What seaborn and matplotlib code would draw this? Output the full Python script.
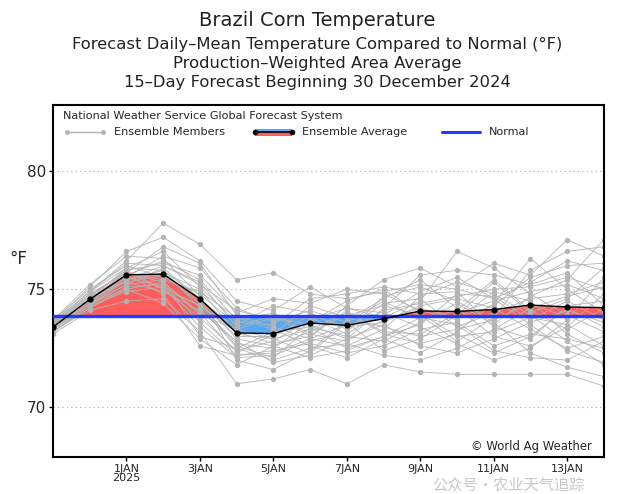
import numpy as np
import pandas as pd
import matplotlib
matplotlib.use("Agg")
import matplotlib.pyplot as plt
from matplotlib.patches import Rectangle
import seaborn as sns

# ---------------- data ----------------
dates = pd.to_datetime([
    "2024-12-30", "2024-12-31", "2025-01-01", "2025-01-02", "2025-01-03",
    "2025-01-04", "2025-01-05", "2025-01-06", "2025-01-07", "2025-01-08",
    "2025-01-09", "2025-01-10", "2025-01-11", "2025-01-12", "2025-01-13",
    "2025-01-14"])

ens_mean = [73.40, 74.57, 75.61, 75.64, 74.59, 73.15, 73.12, 73.57,
            73.47, 73.75, 74.08, 74.06, 74.14, 74.33, 74.25, 74.22]

normal = [73.88] * 16

members = [
    [73.5, 74.9, 76.2, 77.8, 76.9, 75.4, 75.7, 74.8, 74.6, 74.9, 75.2, 75.0, 74.6, 75.3, 76.2, 75.8],
    [73.6, 75.1, 76.6, 77.2, 76.2, 74.5, 74.1, 75.1, 74.2, 73.8, 74.5, 76.6, 75.9, 74.8, 73.9, 73.2],
    [73.2, 74.3, 75.4, 76.0, 75.3, 73.4, 73.9, 73.0, 74.3, 75.4, 75.9, 75.1, 76.1, 75.6, 77.1, 76.4],
    [73.4, 74.6, 75.9, 75.8, 74.2, 72.6, 72.1, 73.4, 73.0, 72.8, 73.6, 74.4, 73.5, 74.7, 75.4, 77.1],
    [73.3, 74.4, 75.2, 75.4, 74.9, 73.8, 73.3, 72.6, 72.1, 72.9, 72.3, 73.2, 74.4, 76.3, 75.0, 74.0],
    [73.7, 75.2, 76.4, 76.3, 74.7, 72.0, 71.6, 72.4, 73.7, 74.6, 75.4, 74.2, 73.0, 72.6, 73.4, 74.8],
    [73.1, 74.1, 74.5, 74.6, 73.2, 71.0, 71.2, 71.6, 71.0, 71.8, 71.5, 71.4, 71.4, 71.4, 71.4, 70.9],
    [73.5, 74.8, 75.7, 75.0, 73.8, 72.4, 72.8, 73.7, 74.2, 74.0, 73.4, 72.7, 72.0, 72.5, 73.7, 75.5],
    [73.6, 74.7, 75.8, 76.1, 75.6, 74.0, 74.6, 74.4, 75.0, 74.8, 74.1, 73.7, 74.9, 74.5, 73.1, 72.3],
    [73.2, 74.2, 75.1, 75.2, 73.6, 72.2, 72.3, 72.9, 72.6, 73.3, 74.7, 75.3, 74.8, 73.9, 72.8, 71.8],
    [73.4, 74.5, 75.5, 76.4, 75.9, 74.2, 73.6, 74.1, 73.6, 72.4, 72.9, 73.9, 75.3, 74.0, 74.6, 75.9],
    [73.3, 74.4, 75.0, 74.4, 72.9, 71.8, 72.6, 73.2, 73.9, 74.3, 73.9, 72.8, 73.8, 75.8, 76.6, 76.8],
    [73.5, 74.6, 75.6, 75.6, 74.4, 73.0, 73.0, 73.9, 73.4, 73.6, 74.3, 74.6, 74.2, 73.3, 72.5, 73.0],
    [73.4, 74.7, 75.3, 74.9, 74.1, 72.8, 71.9, 72.2, 72.9, 73.5, 72.6, 72.3, 72.9, 73.6, 74.1, 73.6],
    [73.6, 74.9, 75.9, 76.6, 75.1, 73.6, 73.5, 74.6, 74.8, 75.1, 74.8, 74.9, 73.4, 72.9, 74.3, 74.5],
    [73.2, 74.3, 75.2, 75.9, 74.6, 72.9, 72.6, 72.1, 72.4, 73.0, 73.8, 73.5, 72.4, 72.1, 72.0, 72.8],
    [73.5, 74.6, 75.7, 75.3, 73.9, 73.3, 73.8, 73.5, 72.9, 74.2, 75.6, 75.8, 75.6, 75.2, 75.7, 74.3],
    [73.3, 74.5, 75.4, 75.7, 75.0, 73.1, 72.9, 73.3, 74.0, 73.2, 73.1, 74.0, 74.5, 74.9, 75.2, 74.6],
    [73.4, 74.4, 75.6, 74.8, 72.6, 72.2, 72.4, 72.7, 72.3, 72.6, 73.3, 73.6, 72.6, 73.1, 72.9, 72.5],
    [73.7, 75.0, 76.0, 75.5, 74.8, 73.5, 74.3, 74.0, 73.3, 74.4, 74.6, 73.4, 74.0, 74.6, 74.8, 75.3],
    [73.3, 74.3, 74.9, 75.1, 74.3, 72.7, 72.5, 73.6, 74.5, 75.0, 74.0, 73.0, 73.2, 73.8, 73.5, 72.6],
    [73.5, 74.8, 75.7, 76.8, 76.1, 73.9, 73.4, 72.9, 73.5, 73.9, 74.9, 75.5, 74.6, 73.5, 72.4, 71.9],
    [73.4, 74.6, 75.3, 75.6, 74.5, 72.5, 72.0, 72.5, 72.7, 72.2, 72.0, 72.5, 73.3, 74.2, 74.7, 75.1],
    [73.2, 74.2, 75.0, 75.3, 74.0, 72.3, 73.1, 74.3, 73.8, 73.4, 73.0, 73.3, 73.7, 74.4, 73.8, 73.9],
    [73.6, 74.9, 76.1, 76.0, 75.2, 74.1, 73.7, 73.8, 73.1, 74.1, 74.4, 74.7, 75.0, 75.1, 75.5, 75.0],
    [73.4, 74.5, 75.5, 75.1, 73.4, 72.1, 72.2, 72.8, 73.2, 74.7, 75.1, 74.5, 73.6, 72.3, 71.7, 71.3],
    [73.3, 74.6, 75.6, 76.2, 75.4, 73.7, 74.0, 73.1, 72.8, 73.7, 74.2, 73.8, 74.3, 75.5, 76.0, 76.1],
    [73.5, 74.7, 75.8, 75.0, 74.3, 73.2, 72.7, 73.0, 74.1, 73.1, 72.7, 73.1, 72.3, 73.0, 74.2, 73.4],
    [73.4, 74.4, 75.4, 75.8, 74.6, 73.3, 72.9, 72.3, 73.6, 74.5, 73.7, 74.1, 75.4, 74.1, 73.3, 74.2],
    [73.5, 74.6, 75.7, 75.4, 73.0, 72.5, 73.2, 73.4, 72.5, 73.0, 73.5, 74.8, 74.7, 73.7, 74.5, 73.7],
]

tick_dates = pd.to_datetime(["2025-01-01", "2025-01-03", "2025-01-05", "2025-01-07",
                             "2025-01-09", "2025-01-11", "2025-01-13"])
tick_labels = ["1JAN\n2025", "3JAN", "5JAN", "7JAN", "9JAN", "11JAN", "13JAN"]
y_ticks = [70, 75, 80]

title_lines = ["Brazil Corn Temperature",
               "Forecast Daily\u2013Mean Temperature Compared to Normal (\u00b0F)",
               "Production\u2013Weighted Area Average",
               "15\u2013Day Forecast Beginning 30 December 2024"]

# ---------------- long-form tables ----------------
mem_df = pd.DataFrame([
    {"date": d, "temp": v, "member": i}
    for i, row in enumerate(members) for d, v in zip(dates, row)
])
mean_df = pd.DataFrame({"date": dates, "temp": ens_mean, "normal": normal})

RED = "#ff5c5c"
BLUE_FILL = "#55a8f5"
NORMAL_C = "#1f3cff"
GRAY = "#b4b4b4"

# ---------------- figure ----------------
sns.set_style("white")
plt.rcParams["font.family"] = ["DejaVu Sans"]

fig = plt.figure(figsize=(6.35, 4.94), dpi=100)
ax = fig.add_axes([0.0835, 0.075, 0.8675, 0.7125])

mean_arr = np.array(ens_mean)
norm_arr = np.array(normal)
ax.fill_between(dates, mean_arr, norm_arr, where=mean_arr >= norm_arr,
                interpolate=True, color=RED, lw=0, zorder=1)
ax.fill_between(dates, mean_arr, norm_arr, where=mean_arr <= norm_arr,
                interpolate=True, color=BLUE_FILL, lw=0, zorder=1)

sns.lineplot(data=mem_df, x="date", y="temp", units="member", estimator=None,
             color=GRAY, lw=0.6, marker="o", markersize=3.8,
             markeredgewidth=0, ax=ax, zorder=2, legend=False)

sns.lineplot(data=mean_df, x="date", y="normal", color=NORMAL_C, lw=2.4,
             ax=ax, zorder=3, legend=False)
sns.lineplot(data=mean_df, x="date", y="temp", color="black", lw=1.0,
             marker="o", markersize=4.5, markeredgewidth=0, ax=ax, zorder=4,
             legend=False)

ax.set_xlim(dates[0], dates[-1])
ax.set_ylim(67.9, 82.8)
ax.set_yticks(y_ticks)
ax.set_yticklabels([str(t) for t in y_ticks], fontsize=11)
ax.set_xticks(tick_dates)
ax.set_xticklabels(tick_labels, fontsize=8, linespacing=0.95)
ax.tick_params(axis="both", direction="out", length=3, width=1, color="black",
               bottom=True, left=True, pad=2)
ax.set_xlabel("")
ax.set_ylabel("\u00b0F", fontsize=12, rotation=0)
ax.yaxis.set_label_coords(-0.063, 0.537)

for y in y_ticks:
    ax.axhline(y, color="#aaaaaa", lw=0.8, ls=(0, (1, 3)), zorder=0.5)

for s in ax.spines.values():
    s.set_color("black")
    s.set_linewidth(1.5)

# ---------------- custom legend (axes coords) ----------------
tr = ax.transAxes
FS = 8.1
ax.text(0.018, 0.968, "National Weather Service Global Forecast System",
        transform=tr, fontsize=FS, va="center", ha="left")
ly = 0.922
ax.plot([0.025, 0.091], [ly, ly], color=GRAY, lw=1, transform=tr)
ax.plot([0.025, 0.091], [ly, ly], "o", color=GRAY, ms=3.5, mew=0, transform=tr)
ax.text(0.111, ly, "Ensemble Members", transform=tr, fontsize=FS, va="center")

ax.add_patch(Rectangle((0.367, ly), 0.067, 0.011, transform=tr,
                       facecolor=BLUE_FILL, lw=0))
ax.add_patch(Rectangle((0.367, ly - 0.011), 0.067, 0.011, transform=tr,
                       facecolor=RED, lw=0))
ax.plot([0.367, 0.434], [ly, ly], color="black", lw=1.2, transform=tr)
ax.plot([0.367, 0.434], [ly, ly], "o", color="black", ms=4, mew=0, transform=tr)
ax.text(0.452, ly, "Ensemble Average", transform=tr, fontsize=FS, va="center")

ax.plot([0.706, 0.775], [ly, ly], color=NORMAL_C, lw=2.2, transform=tr)
ax.text(0.791, ly, "Normal", transform=tr, fontsize=FS, va="center")

ax.text(0.978, 0.03, "\u00a9 World Ag Weather", transform=tr, fontsize=8.4,
        ha="right", va="center")

# ---------------- titles ----------------
fig.text(0.5, 0.958, title_lines[0], ha="center", va="center", fontsize=14,
         color="#222222")
for txt, yy in zip(title_lines[1:], [0.909, 0.872, 0.832]):
    fig.text(0.5, yy, txt, ha="center", va="center", fontsize=11.8,
             color="#222222")

fig.text(0.80, 0.018, "\u516c\u4f17\u53f7\u00b7\u519c\u4e1a\u5929\u6c14\u8ffd\u8e2a",
         ha="center", va="center", fontsize=11, color="#c8c8c8",
         family=["Noto Sans CJK SC", "DejaVu Sans"])

fig.savefig("out.png", dpi=100)
